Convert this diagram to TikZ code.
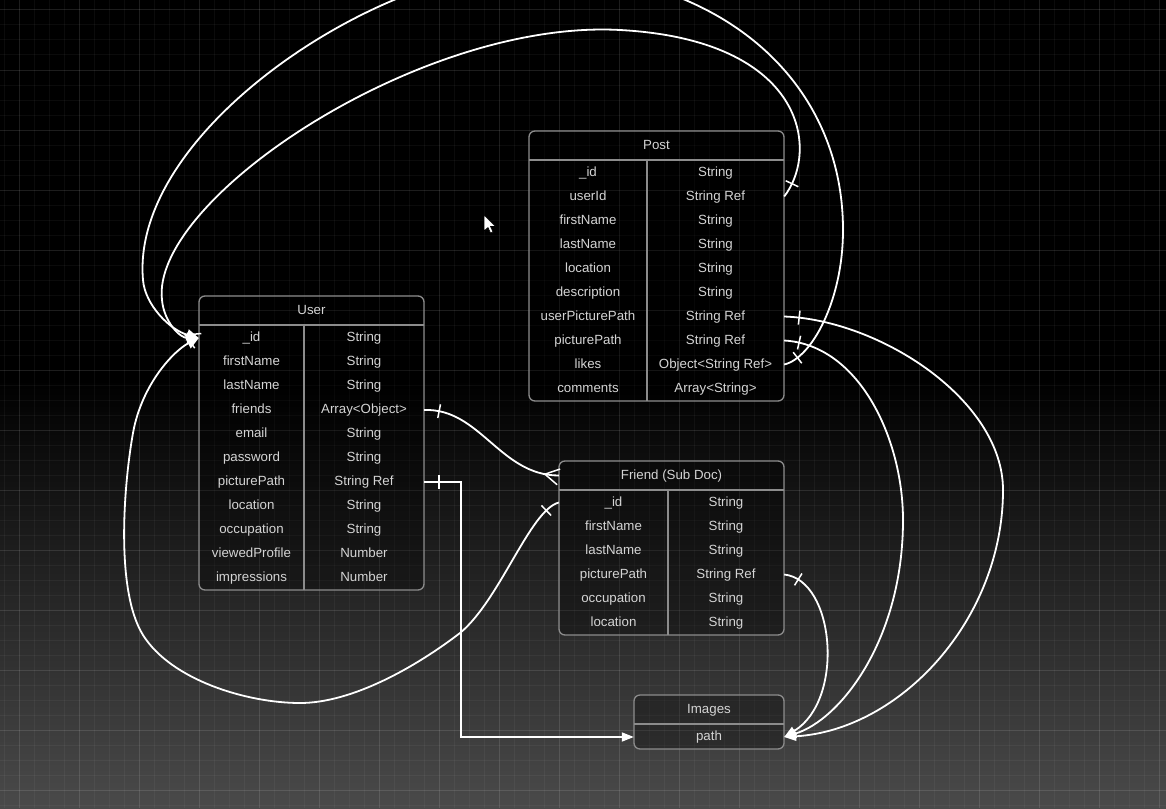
\documentclass[tikz,border=0pt]{standalone}
\usepackage{fontspec}
\setmainfont{Liberation Sans}
\usetikzlibrary{arrows.meta,decorations.markings}

\definecolor{bgbottom}{RGB}{74,74,74}
\definecolor{boxline}{RGB}{140,140,140}
\definecolor{txtgray}{RGB}{212,212,212}

\tikzset{
  gridminor/.style={draw=white, opacity=0.045, line width=1pt},
  gridmajor/.style={draw=white, opacity=0.075, line width=1pt},
  tablebox/.style={draw=boxline, line width=1.3pt, fill=black, fill opacity=0.3, rounded corners=6pt},
  tableline/.style={draw=boxline, line width=1.3pt},
  cell/.style={text=txtgray, font=\fontsize{13.3}{16}\selectfont, inner sep=0pt,
    minimum height=24pt, text height=10pt, text depth=3pt},
  conn/.style={draw=white, line width=1.8pt},
  onebar/.style={postaction={decorate}, decoration={markings,
    mark=at position 15pt with {\draw[-, white, line width=1.5pt] (0,-7pt) -- (0,7pt);}}},
  onemany/.style={postaction={decorate}, decoration={markings,
    mark=at position 15pt with {\draw[-, white, line width=1.5pt] (0,-7pt) -- (0,7pt);},
    mark=at position -14pt with {\draw[-, white, line width=1.5pt] (14pt,8pt) -- (0,0) -- (14pt,-8pt);}}},
  toimg/.style={-{Triangle[length=12pt,width=9pt]}},
  tousr/.style={-{Triangle[length=12pt,width=11pt]}}
}

\begin{document}
\begin{tikzpicture}[x=1pt, y=-1pt]  % 以像素为单位, y 轴向下

    \useasboundingbox (0,0) rectangle (1166,808);
    \clip (0,0) rectangle (1166,808);

    % 绘制背景
    \fill[black] (0,0) rectangle (1166,380);
    \shade[top color=black, bottom color=bgbottom] (0,380) rectangle (1166,808);

    % 绘制网格
    \foreach \x in {4,19,...,1166} \draw[gridminor] (\x,0) -- (\x,808);
    \foreach \y in {10,25,...,808} \draw[gridminor] (0,\y) -- (1166,\y);
    \foreach \x in {19,79,...,1166} \draw[gridmajor] (\x,0) -- (\x,808);
    \foreach \y in {10,70,...,808} \draw[gridmajor] (0,\y) -- (1166,\y);

    % User 表
    \draw[tablebox] (199,296) rectangle (424,590);
    \draw[tableline] (199,325) -- (424,325); % 表头分隔线
    \draw[tableline] (304,325) -- (304,590); % 列分隔线
    \node[cell, minimum width=225pt, minimum height=29pt] (user) at (311.5,310.5) {User};
    \foreach \rowname/\rowtype [count=\i from 0] in {\_id/String, firstName/String, lastName/String,
        friends/Array<Object>, email/String, password/String, picturePath/String Ref,
        location/String, occupation/String, viewedProfile/Number, impressions/Number} {
      \node[cell, minimum width=105pt] (user-\i-n) at (251.5,{338+24*\i}) {\rowname};
      \node[cell, minimum width=120pt] (user-\i-t) at (364,{338+24*\i}) {\rowtype};
    }

    % Post 表
    \draw[tablebox] (529,131) rectangle (784,401);
    \draw[tableline] (529,160) -- (784,160); % 表头分隔线
    \draw[tableline] (647,160) -- (647,401); % 列分隔线
    \node[cell, minimum width=255pt, minimum height=29pt] (post) at (656.5,145.5) {Post};
    \foreach \rowname/\rowtype [count=\i from 0] in {\_id/String, userId/String Ref, firstName/String,
        lastName/String, location/String, description/String, userPicturePath/String Ref,
        picturePath/String Ref, likes/Object<String Ref>, comments/Array<String>} {
      \node[cell, minimum width=118pt] (post-\i-n) at (588,{172.5+24*\i}) {\rowname};
      \node[cell, minimum width=137pt] (post-\i-t) at (715.5,{172.5+24*\i}) {\rowtype};
    }

    % Friend 表
    \draw[tablebox] (559,461) rectangle (784,635);
    \draw[tableline] (559,490) -- (784,490); % 表头分隔线
    \draw[tableline] (668,490) -- (668,635); % 列分隔线
    \node[cell, minimum width=225pt, minimum height=29pt] (friend) at (671.5,475.5) {Friend (Sub Doc)};
    \foreach \rowname/\rowtype [count=\i from 0] in {\_id/String, firstName/String, lastName/String,
        picturePath/String Ref, occupation/String, location/String} {
      \node[cell, minimum width=109pt] (friend-\i-n) at (613.5,{502.5+24*\i}) {\rowname};
      \node[cell, minimum width=116pt] (friend-\i-t) at (726,{502.5+24*\i}) {\rowtype};
    }

    % Images 表
    \draw[tablebox] (634,695) rectangle (784,749);
    \draw[tableline] (634,724) -- (784,724); % 表头分隔线
    \node[cell, minimum width=150pt, minimum height=29pt] (images) at (709,709.5) {Images};
    \node[cell, minimum width=150pt] (images-0) at (709,737) {path};

    % 连接线: 指向 User 的 _id
    \draw[conn, onemany, tousr] (post-1-t.east) .. controls (820,150) and (805,40) .. (620,30)
        .. controls (420,19) and (150,200) .. (162,300)
        .. controls (164,322) and (180,338) .. (user-0-n.west); % userId
    \draw[conn, onebar, tousr] (post-8-t.east) .. controls (812,358) and (843,300) .. (843,230)
        .. controls (843,80) and (720,-32) .. (520,-30)
        .. controls (380,-30) and (130,130) .. (143,280)
        .. controls (145,305) and (170,330) .. (user-0-n.west); % likes
    \draw[conn, onebar, tousr] (friend-0-n.west) .. controls (530,510) and (500,600) .. (460,633)
        .. controls (417,666) and (353,703) .. (300,703)
        .. controls (247,703) and (171,680) .. (143,635)
        .. controls (115,590) and (124,483) .. (133,433)
        .. controls (142,383) and (175,350) .. (user-0-n.west); % Friend _id

    % 连接线: friends 指向 Friend
    \draw[conn, onemany] (user-3-t.east) .. controls (480,408) and (500,475.5) .. (friend.west);

    % 连接线: 指向 Images 的 path
    \draw[conn, onebar, toimg] (user-6-t.east) -- ++(37,0) |- (images-0.west);
    \draw[conn, onebar, toimg] (post-6-t.east) .. controls (880,320) and (1003,400) .. (1003,490)
        .. controls (1003,620) and (900,730) .. (images-0.east);
    \draw[conn, onebar, toimg] (post-7-t.east) .. controls (860,345) and (903,440) .. (903,520)
        .. controls (903,640) and (840,720) .. (images-0.east);
    \draw[conn, onebar, toimg] (friend-3-t.east) .. controls (835,580) and (845,700) .. (images-0.east);

    % 鼠标指针
    \filldraw[fill=white, draw=black, line width=0.6pt] (484,215) -- (484,231) -- (488,227.5)
        -- (490.5,233) -- (493,232) -- (490.5,226.5) -- (495.5,226.5) -- cycle;

\end{tikzpicture}
\end{document}
